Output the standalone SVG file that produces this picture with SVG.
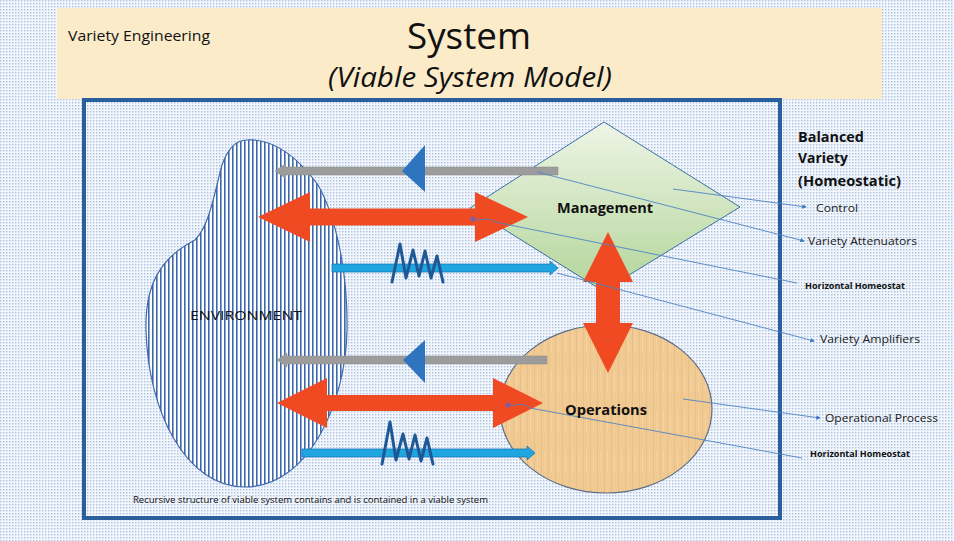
<svg xmlns="http://www.w3.org/2000/svg" width="954" height="541" viewBox="0 0 954 541">
<style>
.t{font-family:"Open Sans","Liberation Sans","DejaVu Sans",sans-serif;fill:#111}
.lbl{font-size:11.5px;fill:#222}
.hh{font-size:8px;font-weight:bold}
.lead{fill:none;stroke:#4F83C4;stroke-width:0.9}
.red{fill:#F04A22}
.gray{fill:#9C9C9C;stroke:#8A8A8A;stroke-width:0.5}
.lblue{fill:#1FA5E0;stroke:#1B78B8;stroke-width:0.8}
.tri{fill:#2F74BE}
.sq{fill:none;stroke:#1E5895;stroke-width:3;stroke-linejoin:round;stroke-linecap:round}
.dot{fill:#7A5FA8}
</style>
<defs>
<pattern id="bgp" width="3" height="3" patternUnits="userSpaceOnUse">
<rect width="3" height="3" fill="#F3F6FB"/>
<rect width="1.4" height="1.4" fill="#A9C1E2"/>
</pattern>
<pattern id="stripes" width="4" height="4" patternUnits="userSpaceOnUse">
<rect width="4" height="4" fill="#FFFFFF"/>
<rect width="1.6" height="4" fill="#3D68AE"/>
</pattern>
<pattern id="wood" width="7" height="40" patternUnits="userSpaceOnUse">
<rect width="7" height="40" fill="#F0CA92"/>
<rect x="2" width="1" height="40" fill="#E3BA80" opacity="0.6"/>
<rect x="5" y="10" width="1" height="22" fill="#F7D6A4" opacity="0.7"/>
</pattern>
<linearGradient id="green" x1="0" y1="0" x2="0" y2="1">
<stop offset="0" stop-color="#EEF5E6"/>
<stop offset="1" stop-color="#B3D59A"/>
</linearGradient>
<marker id="ah" viewBox="0 0 6 6" refX="5" refY="3" markerWidth="5" markerHeight="5" orient="auto">
<path d="M0,0 L6,3 L0,6 Z" fill="#3C78C6"/>
</marker>
</defs>

<rect width="954" height="541" fill="url(#bgp)"/>

<g id="header">
<rect x="57" y="8" width="825" height="91" fill="#FBEBC9"/>
<text class="t" x="68" y="41" font-size="14.5" textLength="142" lengthAdjust="spacingAndGlyphs">Variety Engineering</text>
<text class="t" x="469" y="49" font-size="37" text-anchor="middle" textLength="124" lengthAdjust="spacingAndGlyphs">System</text>
<text class="t" x="470" y="87" font-size="27" font-style="italic" text-anchor="middle" textLength="284" lengthAdjust="spacingAndGlyphs">(Viable System Model)</text>
</g>

<g id="frame">
<rect x="84" y="100" width="696" height="418" fill="none" stroke="#2B5E9C" stroke-width="4"/>
</g>

<g id="environment">
<path d="M247,140 C275,138 300,160 318,185 C335,215 348,270 347,330 C346,400 310,487 245,487 C185,487 148,410 146,330 C145,285 160,258 195,240 C210,225 215,190 222,165 C228,148 236,140 247,140 Z" fill="url(#stripes)" stroke="#3D68AE" stroke-width="1.2"/>
<text class="t" x="246" y="320" font-size="13.5" text-anchor="middle" textLength="112" lengthAdjust="spacingAndGlyphs">ENVIRONMENT</text>
</g>

<g id="management">
<polygon points="604,122 740,207 603,291 470,208" fill="url(#green)" stroke="#3B6FA8" stroke-width="1"/>
</g>

<g id="operations">
<ellipse cx="606" cy="409" rx="106" ry="84" fill="url(#wood)" stroke="#5B6E8A" stroke-width="1.2"/>
</g>

<g id="connectors">
<polygon class="gray" points="275,171 285,164 285,167 558,167 558,175 285,175 285,178"/>
<polygon class="tri" points="402,171 425,145 425,192"/>
<polygon class="red" points="258,217 310,192 310,208.5 475,208.5 475,192 528,217 475,242 475,225.5 310,225.5 310,242"/>
<polygon class="lblue" points="332,264 550,264 550,261 558,268 550,275 550,272 332,272"/>
<path class="sq" d="M392,282 L400,244 L406,278 L413,250 L419,276 L425,251 L431,278 L437,256 L443,282"/>
<polygon class="red" points="608,232 633,282 620,282 620,323 633,323 608,373 583,323 596,323 596,282 583,282"/>
<polygon class="gray" points="277,360 287,353 287,356 547,356 547,364 287,364 287,367"/>
<polygon class="tri" points="403,360 425,340 425,383"/>
<polygon class="red" points="277,403 327,378 327,395 493,395 493,378 543,403 493,428 493,411 327,411 327,428"/>
<polygon class="lblue" points="302,449 527,449 527,446 535,453 527,460 527,457 302,457"/>
<path class="sq" d="M382,464 L390,422 L396,460 L403,434 L409,459 L415,435 L421,461 L427,438 L433,464"/>
<path class="lead" d="M673,189 L806,207" marker-end="url(#ah)"/>
<path class="lead" d="M537,172 L804,241" marker-end="url(#ah)"/>
<path class="lead" d="M473,219 C480,222 487,216 495,222 L797,283"/>
<path class="lead" d="M557,273 L814,341" marker-end="url(#ah)"/>
<path class="lead" d="M683,399 L820,418" marker-end="url(#ah)"/>
<path class="lead" d="M508,405 C515,407 522,401 530,408 L802,458"/>
<circle class="dot" cx="473" cy="219" r="2.5"/>
<circle class="dot" cx="508" cy="405" r="2.5"/>
</g>

<g id="labels">
<text class="t" x="605" y="213" font-size="14.5" font-weight="bold" text-anchor="middle" textLength="96" lengthAdjust="spacingAndGlyphs">Management</text>
<text class="t" x="606" y="415" font-size="14.5" font-weight="bold" text-anchor="middle" textLength="82" lengthAdjust="spacingAndGlyphs">Operations</text>
<text class="t" x="798" y="142" font-size="14.5" font-weight="bold" textLength="66" lengthAdjust="spacingAndGlyphs">Balanced</text>
<text class="t" x="798" y="163" font-size="14.5" font-weight="bold" textLength="50" lengthAdjust="spacingAndGlyphs">Variety</text>
<text class="t" x="798" y="186" font-size="14.5" font-weight="bold" textLength="103" lengthAdjust="spacingAndGlyphs">(Homeostatic)</text>
<text class="t lbl" x="816" y="212" textLength="42" lengthAdjust="spacingAndGlyphs">Control</text>
<text class="t lbl" x="808" y="245" textLength="109" lengthAdjust="spacingAndGlyphs">Variety Attenuators</text>
<text class="t hh" x="805" y="289" textLength="100" lengthAdjust="spacingAndGlyphs">Horizontal Homeostat</text>
<text class="t lbl" x="820" y="343" textLength="100" lengthAdjust="spacingAndGlyphs">Variety Amplifiers</text>
<text class="t lbl" x="825" y="422" textLength="113" lengthAdjust="spacingAndGlyphs">Operational Process</text>
<text class="t hh" x="810" y="457" textLength="100" lengthAdjust="spacingAndGlyphs">Horizontal Homeostat</text>
<text class="t" x="133" y="503" font-size="8.5" fill="#333" textLength="355" lengthAdjust="spacingAndGlyphs">Recursive structure of viable system contains and is contained in a viable system</text>
</g>
</svg>
